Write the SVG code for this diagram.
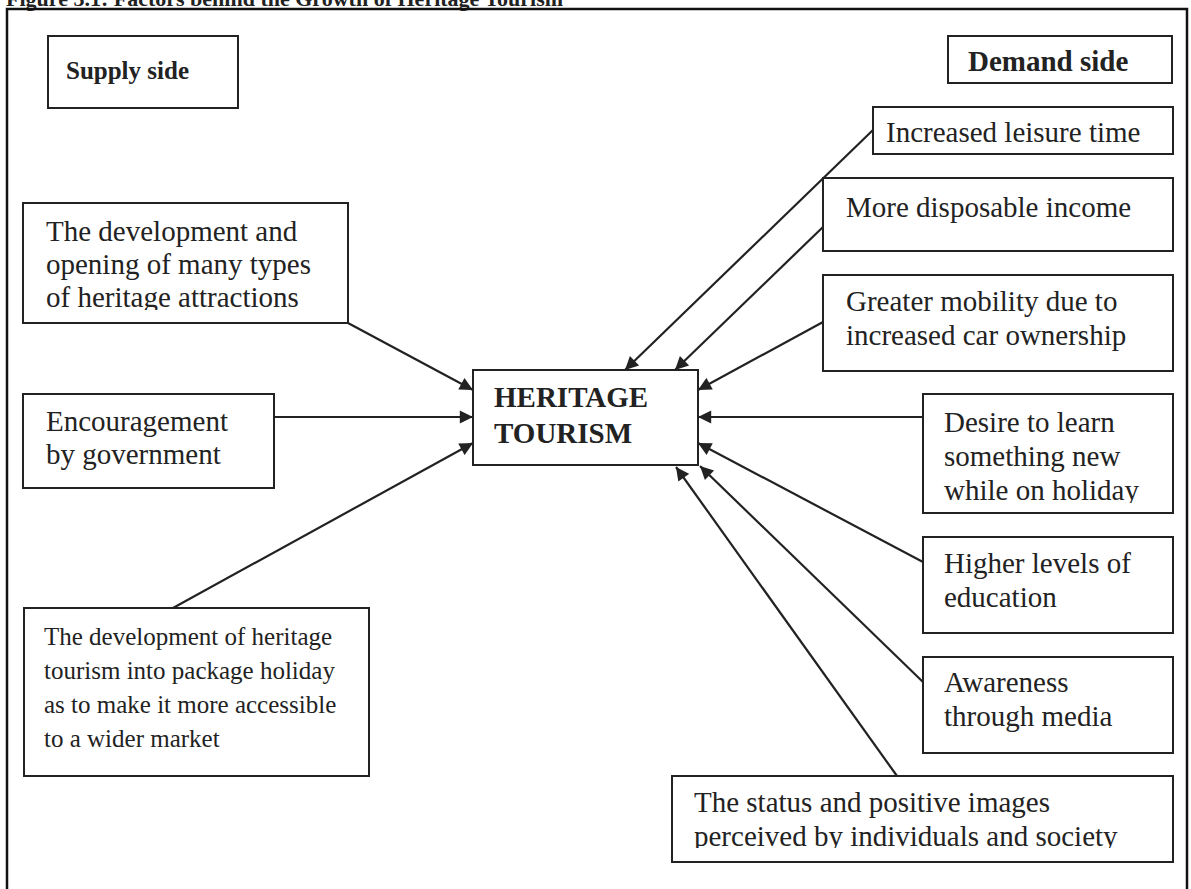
<svg xmlns="http://www.w3.org/2000/svg" width="1191" height="889" viewBox="0 0 1191 889">
  <style>
    .box { fill: #fff; stroke: #222; stroke-width: 2; }
    .frame { fill: none; stroke: #111; stroke-width: 2.5; }
    .t { font-family: "Liberation Serif", "Times New Roman", serif; font-size: 29px; fill: #222; }
    .s { font-family: "Liberation Serif", "Times New Roman", serif; font-size: 25px; fill: #222; }
    .b { font-family: "Liberation Serif", "Times New Roman", serif; font-size: 29px; font-weight: bold; fill: #222; }
    .bs { font-family: "Liberation Serif", "Times New Roman", serif; font-size: 25px; font-weight: bold; fill: #222; }
    .title { font-family: "Liberation Serif", "Times New Roman", serif; font-size: 22px; font-weight: bold; fill: #222; }
    .edge { stroke: #222; stroke-width: 2.2; fill: none; marker-end: url(#arrow); }
  </style>
  <defs>
    <marker id="arrow" viewBox="0 0 10 10" refX="10" refY="5" markerWidth="7" markerHeight="6" markerUnits="strokeWidth" orient="auto">
      <path d="M0,0 L10,5 L0,10 z" fill="#222"/>
    </marker>
    <clipPath id="clipDev"><rect x="23" y="203" width="325" height="107"/></clipPath>
    <clipPath id="clipDesire"><rect x="923" y="394" width="250" height="109"/></clipPath>
    <clipPath id="clipStatus"><rect x="672" y="776" width="501" height="72"/></clipPath>
  </defs>

  <rect width="1191" height="889" fill="#fff"/>

  <!-- caption, mostly above the page edge -->
  <text class="title" x="6" y="6">Figure 3.1: Factors behind the Growth of Heritage Tourism</text>

  <!-- outer frame -->
  <rect class="frame" x="7" y="9" width="1180" height="900"/>

  <!-- connectors -->
  <g id="connectors">
    <line class="edge" x1="348" y1="323" x2="473" y2="390"/>
    <line class="edge" x1="274" y1="417" x2="473" y2="417"/>
    <line class="edge" x1="173" y1="608" x2="473" y2="443"/>
    <line class="edge" x1="873" y1="130" x2="625" y2="370"/>
    <line class="edge" x1="823" y1="227" x2="675" y2="370"/>
    <line class="edge" x1="823" y1="322" x2="698" y2="390"/>
    <line class="edge" x1="923" y1="417" x2="698" y2="417"/>
    <line class="edge" x1="923" y1="562" x2="698" y2="443"/>
    <line class="edge" x1="923" y1="682" x2="700" y2="466"/>
    <line class="edge" x1="897" y1="776" x2="676" y2="467"/>
  </g>

  <g id="supply-side">
    <rect class="box" x="48" y="36" width="190" height="72"/>
    <text class="bs" x="66" y="79">Supply side</text>
  </g>

  <g id="demand-side">
    <rect class="box" x="948" y="36" width="224" height="47"/>
    <text class="b" x="968" y="71">Demand side</text>
  </g>

  <g id="heritage-tourism">
    <rect class="box" x="473" y="370" width="225" height="95"/>
    <text class="b" x="494" y="407">HERITAGE</text>
    <text class="b" x="494" y="443">TOURISM</text>
  </g>

  <g id="attractions">
    <rect class="box" x="23" y="203" width="325" height="120"/>
    <g clip-path="url(#clipDev)">
      <text class="t" x="46" y="241">The development and</text>
      <text class="t" x="46" y="274">opening of many types</text>
      <text class="t" x="46" y="307">of heritage attractions</text>
    </g>
  </g>

  <g id="government">
    <rect class="box" x="23" y="394" width="251" height="94"/>
    <text class="t" x="46" y="431">Encouragement</text>
    <text class="t" x="46" y="464">by government</text>
  </g>

  <g id="package-holiday">
    <rect class="box" x="24" y="608" width="345" height="168"/>
    <text class="s" x="44" y="645">The development of heritage</text>
    <text class="s" x="44" y="679">tourism into package holiday</text>
    <text class="s" x="44" y="713">as to make it more accessible</text>
    <text class="s" x="44" y="747">to a wider market</text>
  </g>

  <g id="leisure-time">
    <rect class="box" x="873" y="107" width="300" height="47"/>
    <text class="t" x="886" y="142">Increased leisure time</text>
  </g>

  <g id="disposable-income">
    <rect class="box" x="823" y="178" width="350" height="73"/>
    <text class="t" x="846" y="217">More disposable income</text>
  </g>

  <g id="mobility">
    <rect class="box" x="823" y="275" width="350" height="96"/>
    <text class="t" x="846" y="311">Greater mobility due to</text>
    <text class="t" x="846" y="345">increased car ownership</text>
  </g>

  <g id="learning">
    <rect class="box" x="923" y="394" width="250" height="119"/>
    <g clip-path="url(#clipDesire)">
      <text class="t" x="944" y="432">Desire to learn</text>
      <text class="t" x="944" y="466">something new</text>
      <text class="t" x="944" y="500">while on holiday</text>
    </g>
  </g>

  <g id="education">
    <rect class="box" x="923" y="537" width="250" height="96"/>
    <text class="t" x="944" y="573">Higher levels of</text>
    <text class="t" x="944" y="607">education</text>
  </g>

  <g id="media">
    <rect class="box" x="923" y="657" width="250" height="96"/>
    <text class="t" x="944" y="692">Awareness</text>
    <text class="t" x="944" y="726">through media</text>
  </g>

  <g id="status">
    <rect class="box" x="672" y="776" width="501" height="86"/>
    <g clip-path="url(#clipStatus)">
      <text class="t" x="694" y="812">The status and positive images</text>
      <text class="t" x="694" y="846">perceived by individuals and society</text>
    </g>
  </g>
</svg>
